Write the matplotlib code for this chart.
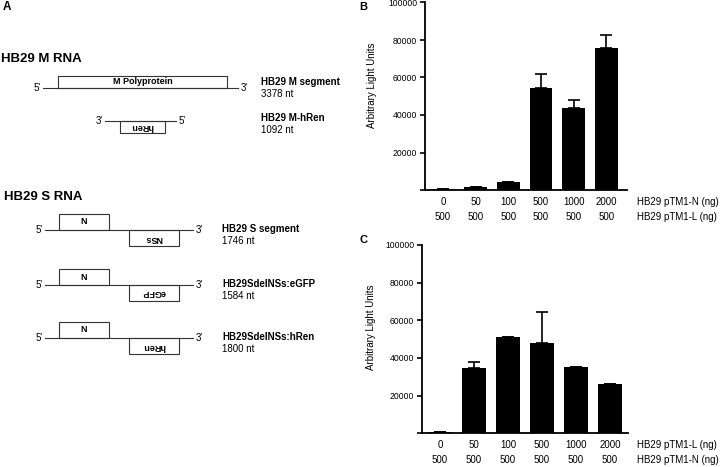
import numpy as np
import matplotlib.pyplot as plt
from matplotlib.patches import Rectangle

plt.rcParams['font.family'] = ['Liberation Sans', 'DejaVu Sans']

# panel B: N titration
b_top = ["0", "50", "100", "500", "1000", "2000"]
b_bottom = ["500", "500", "500", "500", "500", "500"]
b_values = [500, 1500, 4500, 54600, 43600, 75900]
b_err = [0, 0, 0, 7300, 4400, 6800]
b_rows = ["HB29 pTM1-N (ng)", "HB29 pTM1-L (ng)"]

# panel C: L titration
c_top = ["0", "50", "100", "500", "1000", "2000"]
c_bottom = ["500", "500", "500", "500", "500", "500"]
c_values = [500, 34900, 51300, 48100, 35000, 26000]
c_err = [0, 2800, 0, 16100, 0, 400]
c_rows = ["HB29 pTM1-L (ng)", "HB29 pTM1-N (ng)"]

W, H = 720, 467
fig = plt.figure(figsize=(W / 100, H / 100), dpi=100)


def px(x, y):
    return x / W, 1 - y / H


def bar_panel(left, right, y0, y1, xl, values, err, top, bottom, rows, letter, letter_xy, ylab_xy):
    ax = fig.add_axes([left / W, 1 - y0 / H, (right - left) / W, (y0 - y1) / H])
    x = np.arange(len(values))
    ax.bar(x, values, width=0.7, color='black')
    ax.errorbar(x, values, yerr=[np.zeros(len(err)), err], fmt='none',
                ecolor='black', elinewidth=1.2, capsize=4.5, capthick=1.2)
    ax.set_xlim(*xl)
    ax.set_ylim(0, 100000)
    ax.set_yticks([0, 20000, 40000, 60000, 80000, 100000])
    ax.set_yticklabels(["", "20000", "40000", "60000", "80000", "100000"], fontsize=6.2)
    ax.set_xticks([])
    for s in ['top', 'right']:
        ax.spines[s].set_visible(False)
    for s in ['left', 'bottom']:
        ax.spines[s].set_linewidth(1.3)
    ax.tick_params(axis='y', width=1.2, length=3.5, pad=2)
    ax.set_ylabel("Arbitrary Light Units", fontsize=7)
    ax.yaxis.set_label_coords(*ylab_xy)
    for i in x:
        ax.annotate(top[i], xy=(i, 0), xycoords=('data', 'axes fraction'),
                    xytext=(0, -8.4), textcoords='offset points',
                    ha='center', va='center', fontsize=7)
        ax.annotate(bottom[i], xy=(i, 0), xycoords=('data', 'axes fraction'),
                    xytext=(0, -19.2), textcoords='offset points',
                    ha='center', va='center', fontsize=7)
    fig.text(*px(637, y0 + 11.7), rows[0], ha='left', va='center', fontsize=7)
    fig.text(*px(637, y0 + 26.7), rows[1], ha='left', va='center', fontsize=7)
    fig.text(*px(*letter_xy), letter, ha='left', va='center', fontsize=8, fontweight='bold')
    return ax


bar_panel(425, 627, 190, 2.5, (-0.55, 5.63), b_values, b_err, b_top, b_bottom, b_rows,
          "B", (359, 7), (-0.238, 0.557))
bar_panel(421.7, 628, 433.3, 245, (-0.54, 5.53), c_values, c_err, c_top, c_bottom, c_rows,
          "C", (360, 240), (-0.22, 0.565))

# panel A: genome diagrams in pixel coordinates
ax = fig.add_axes([0, 0, 1, 1], zorder=-1)
ax.set_xlim(0, W)
ax.set_ylim(H, 0)
ax.axis('off')
lc = '#333333'


def box(x0, x1, y0, y1, label, flip=False):
    ax.add_patch(Rectangle((x0, y0), x1 - x0, y1 - y0, fill=False, ec=lc, lw=0.8))
    ax.text((x0 + x1) / 2, (y0 + y1) / 2, label, ha='center', va='center',
            fontsize=6.5, fontweight='bold', rotation=180 if flip else 0)


def line(x0, x1, y, l_end, r_end):
    ax.plot([x0, x1], [y, y], color=lc, lw=0.8)
    ax.text(x0 - 2, y, l_end, ha='right', va='center', fontsize=7)
    ax.text(x1 + 3, y, r_end, ha='left', va='center', fontsize=7)


def name(x, y, title, nt):
    ax.text(x, y, title, ha='left', va='center', fontsize=7, fontweight='bold')
    ax.text(x, y + 12, nt, ha='left', va='center', fontsize=7)


ax.text(3, 7, "A", ha='left', va='center', fontsize=8.5, fontweight='bold')
ax.text(1, 59, "HB29 M RNA", ha='left', va='center', fontsize=9.5, fontweight='bold')
line(43, 238, 88, "5'", "3'")
box(58, 227, 76, 88, "M Polyprotein")
name(261, 82, "HB29 M segment", "3378 nt")
line(105, 176, 121, "3'", "5'")
box(120, 165, 121, 133, "hRen", flip=True)
name(261, 118, "HB29 M-hRen", "1092 nt")

ax.text(4, 197, "HB29 S RNA", ha='left', va='center', fontsize=9.5, fontweight='bold')
for ly, lab, title, nt in [(230, "NSs", "HB29 S segment", "1746 nt"),
                           (285, "eGFP", "HB29SdelNSs:eGFP", "1584 nt"),
                           (338, "hRen", "HB29SdelNSs:hRen", "1800 nt")]:
    line(45, 193, ly, "5'", "3'")
    box(59, 109, ly - 16, ly, "N")
    box(129, 179, ly, ly + 16, lab, flip=True)
    name(222, ly - 1, title, nt)

fig.savefig("out.png", dpi=100)
